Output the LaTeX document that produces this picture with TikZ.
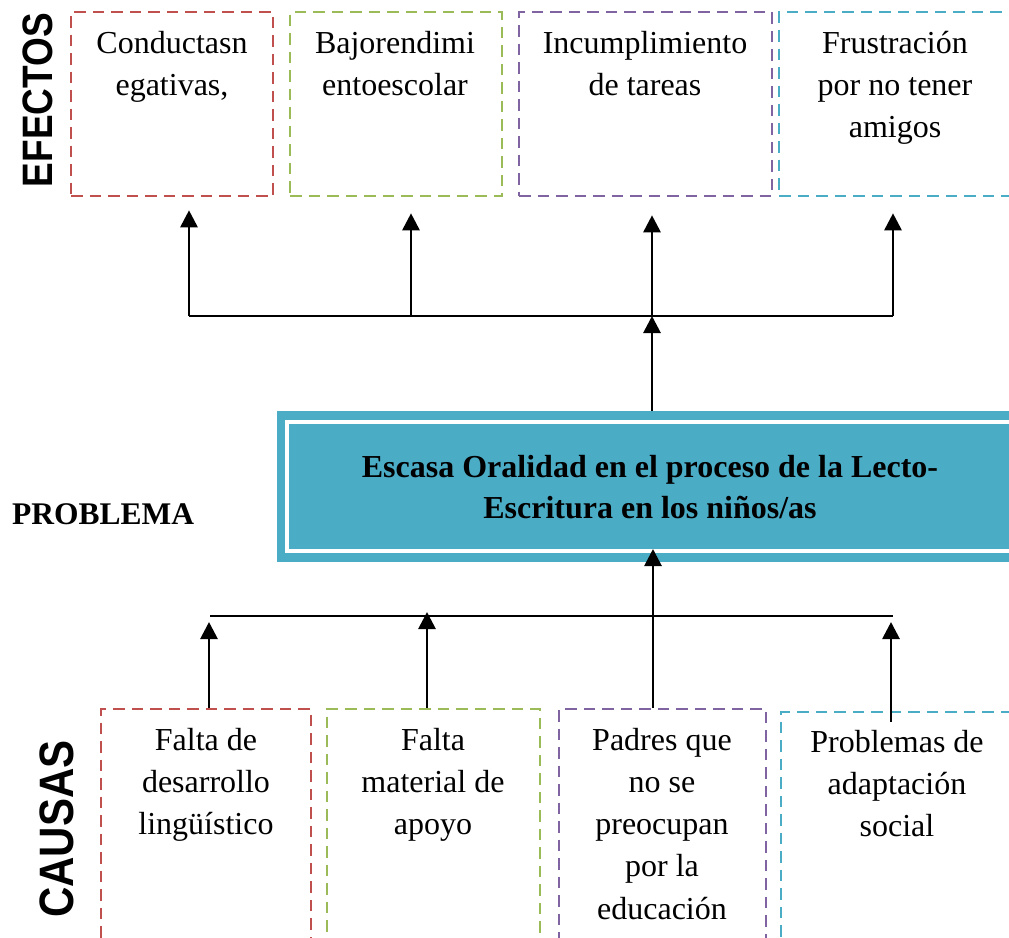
\documentclass[tikz,border=0pt]{standalone}
\usepackage{fontspec}
\setmainfont{Liberation Serif}
\newfontfamily\arialfont{Liberation Sans}
\usetikzlibrary{arrows.meta,calc}
\definecolor{cred}{HTML}{C0504D}
\definecolor{cgreen}{HTML}{9BBB59}
\definecolor{cpurple}{HTML}{8064A2}
\definecolor{ccyan}{HTML}{4BACC6}
\begin{document}
\begin{tikzpicture}[x=1pt,y=-1pt,
  dbox/.style={draw=#1, dash pattern=on 11.5pt off 7pt, line width=2.6pt, inner sep=0pt},
  txt/.style={font=\fontsize{32}{42.3}\selectfont, align=center, inner sep=0pt, anchor=base},
  arr/.style={line width=2.8pt, -{Triangle[length=17pt,width=17pt]}},
  bus/.style={line width=2.5pt},
  side/.style={font=\arialfont\bfseries\fontsize{#1}{#1}\selectfont, rotate=90, inner sep=0pt}
]
\useasboundingbox (0,0) rectangle (1009,937);
\clip (0,0) rectangle (1009,937);

% effect boxes
\node[dbox=cred,    minimum width=202pt, minimum height=184pt] (e1) at (172,104) {};
\node[dbox=cgreen,  minimum width=212pt, minimum height=184pt] (e2) at (396,104) {};
\node[dbox=cpurple, minimum width=253pt, minimum height=184pt] (e3) at (645.5,104) {};
\node[dbox=ccyan,   minimum width=232pt, minimum height=184pt] (e4) at (895,104) {};
% (anchor = baseline of the last line)
\node[txt] (te1) at (172,95.3) {Conductasn\\egativas,};
\node[txt] (te2) at (395,95.3) {Bajorendimi\\entoescolar};
\node[txt] (te3) at (645,95.3) {Incumplimiento\\de tareas};
\node[txt] (te4) at (895,137.6) {Frustración\\por no tener\\amigos};

% cause boxes
\node[dbox=cred,    minimum width=210pt, minimum height=251pt] (c1) at (206,834.5) {};
\node[dbox=cgreen,  minimum width=213pt, minimum height=251pt] (c2) at (433.5,834.5) {};
\node[dbox=cpurple, minimum width=207pt, minimum height=251pt] (c3) at (662.5,834.5) {};
\node[dbox=ccyan,   minimum width=232pt, minimum height=248pt] (c4) at (897,836) {};
\node[txt] (tc1) at (206,834.6) {Falta de\\desarrollo\\lingüístico};
\node[txt] (tc2) at (433,834.6) {Falta\\material de\\apoyo};
\node[txt] (tc3) at (662,919.2) {Padres que\\no se\\preocupan\\por la\\educación};
\node[txt] (tc4) at (897,836.6) {Problemas de\\adaptación\\social};

% problem box
\node[fill=ccyan, minimum width=746pt, minimum height=151pt, inner sep=0pt] (p) at (650,486.5) {};
\draw[white, line width=4pt] ($(p.north west)+(10,11)$) rectangle ($(p.south east)+(-10,-11)$);
\node[txt, font=\bfseries\fontsize{32}{41.5}\selectfont] (tp) at (650,518.5)
  {Escasa Oralidad en el proceso de la Lecto-\\Escritura en los niños/as};

% side labels
\node[anchor=base west, inner sep=0pt, font=\bfseries\fontsize{31.5}{31.5}\selectfont] (lp) at (12,524) {PROBLEMA};
\node[side=37] (le) at (37.5,100) {\scalebox{1}[1.15]{EFECTOS}};
\node[side=42] (lc) at (57,829) {\scalebox{1}[1.15]{CAUSAS}};

% top connectors
\coordinate (t1) at (189,316);
\coordinate (t2) at (411,316);
\coordinate (t3) at (652,316);
\coordinate (t4) at (893,316);
\draw[bus] (t1) -- (t4);
\draw[arr, shorten >=13pt] (t1) -- (t1 |- e1.south);
\draw[arr, shorten >=16pt] (t2) -- (t2 |- e2.south);
\draw[arr, shorten >=18pt] (t3) -- (t3 |- e3.south);
\draw[arr, shorten >=16pt] (t4) -- (t4 |- e4.south);
\draw[arr] (p.north -| t3) -- (t3);

% bottom connectors
\coordinate (bl) at (210,616);
\coordinate (br) at (893,616);
\coordinate (b1) at (209,616);
\coordinate (b2) at (427,616);
\coordinate (b3) at (653,616);
\coordinate (b4) at (891,616);
\coordinate (ptip) at (653,549);
\draw[bus, line width=2pt] (bl) -- (br);
\draw[arr, shorten >=6pt] (c1.north -| b1) -- (b1);
\draw[arr, shorten >=-4pt] (c2.north -| b2) -- (b2);
\draw[arr] (c3.north -| b3) -- (ptip);
\draw[arr, shorten >=6pt] ($(c4.north -| b4)+(0,11)$) -- (b4);
\end{tikzpicture}
\end{document}
